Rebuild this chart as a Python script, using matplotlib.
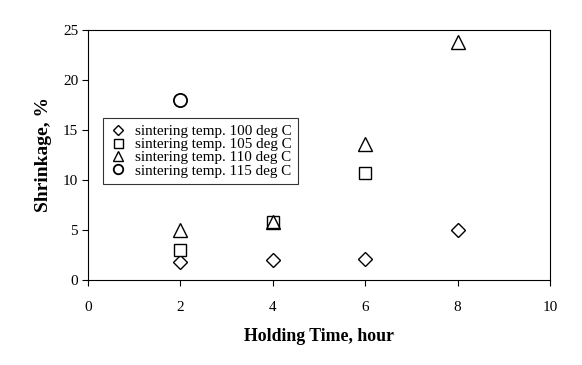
import numpy as np
import matplotlib.pyplot as plt

plt.rcParams['font.family'] = 'Liberation Serif'

# data
t100 = [2, 4, 6, 8]
s100 = [1.8, 2.0, 2.1, 5.0]
t105 = [2, 4, 6]
s105 = [3.0, 5.8, 10.7]
t110 = [2, 4, 6, 8]
s110 = [5.0, 5.8, 13.6, 23.8]
t115 = [2]
s115 = [18.0]

fig = plt.figure(figsize=(5.82, 3.65), dpi=100)
ax = fig.add_axes([0.151, 0.233, 0.794, 0.685])

ax.plot(t100, s100, linestyle='none', marker='D', markersize=6.8, mfc='white', mec='black', mew=1.0,
        label='sintering temp. 100 deg C')
ax.plot(t105, s105, linestyle='none', marker='s', markersize=9, mfc='white', mec='black', mew=1.0,
        label='sintering temp. 105 deg C')
ax.plot(t110, s110, linestyle='none', marker='^', markersize=10, mfc='none', mec='black', mew=1.0,
        label='sintering temp. 110 deg C')
ax.plot(t115, s115, linestyle='none', marker='o', markersize=9.5, mfc='white', mec='black', mew=1.3,
        label='sintering temp. 115 deg C')

ax.set_xlim(0, 10)
ax.set_ylim(0, 25)
ax.set_xticks([0, 2, 4, 6, 8, 10])
ax.set_yticks([0, 5, 10, 15, 20, 25])
ax.tick_params(labelsize=11, direction='out', length=4)
ax.tick_params(axis='x', pad=11)
ax.tick_params(axis='y', pad=3)
ax.set_xlabel('Holding Time, hour', fontsize=12.8, fontweight='bold', labelpad=10)
ax.set_ylabel('Shrinkage, %', fontsize=14, fontweight='bold', labelpad=8)

leg = ax.legend(loc='upper left', bbox_to_anchor=(0.032, 0.648), fontsize=10.9, frameon=True,
                fancybox=False, edgecolor='black', handletextpad=0.5, labelspacing=-0.02,
                borderpad=0.42, handlelength=1.2, markerscale=0.72, borderaxespad=0)
leg.get_frame().set_linewidth(0.8)

fig.savefig('out.png', dpi=100)
